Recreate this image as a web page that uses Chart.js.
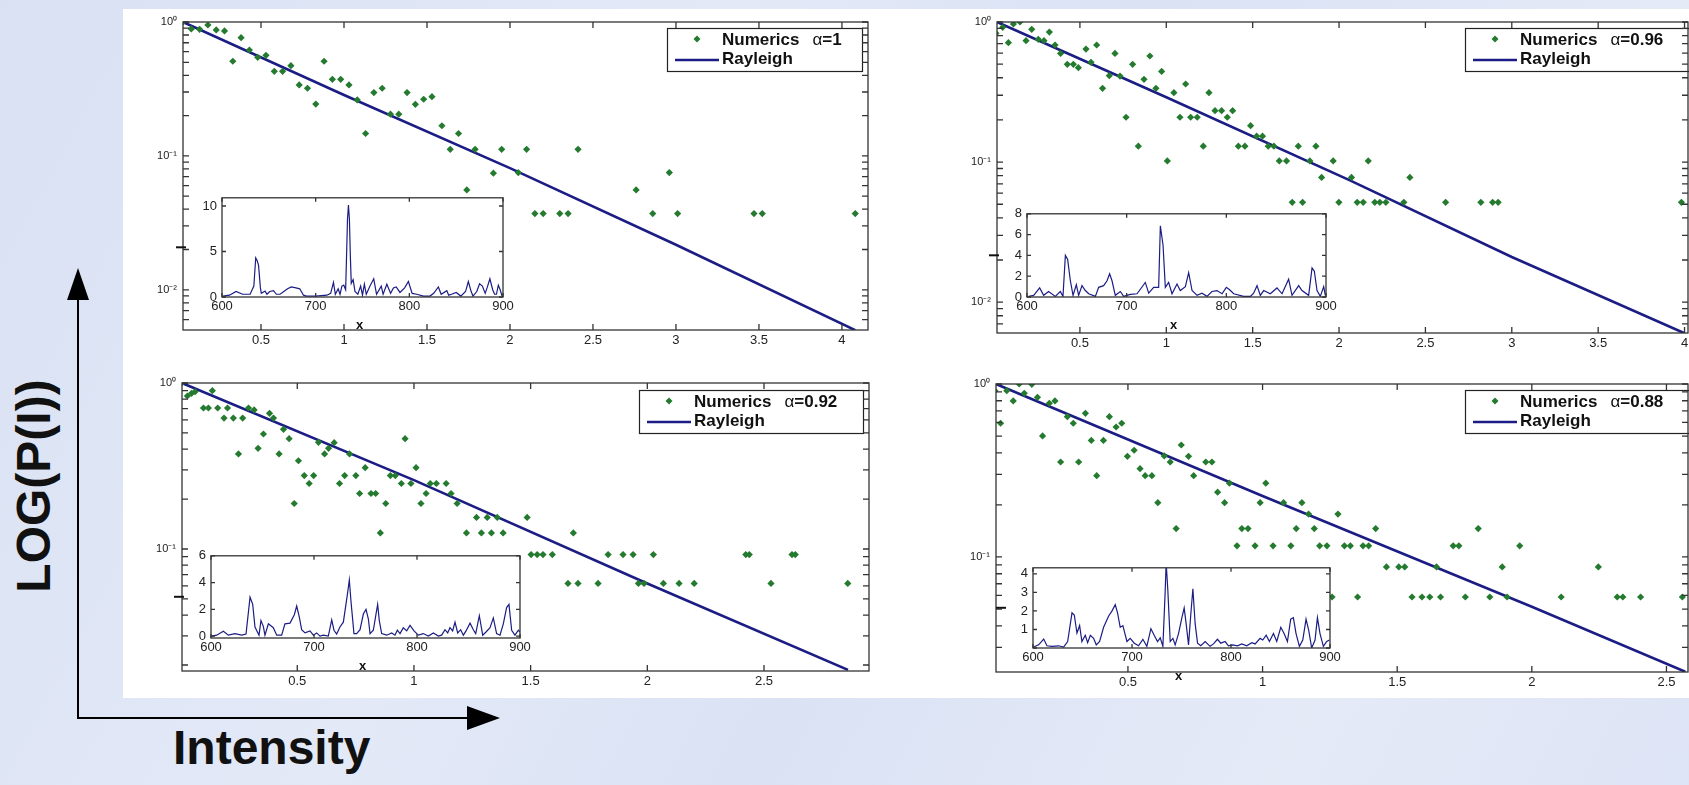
<!DOCTYPE html>
<html>
<head>
<meta charset="utf-8">
<script src="https://cdn.jsdelivr.net/npm/chart.js@4.4.0/dist/chart.umd.min.js"></script>
<style>
  html, body { margin: 0; padding: 0; }
  body {
    width: 1689px; height: 785px; overflow: hidden; position: relative;
    background: linear-gradient(118deg, #d9e1f3 0%, #e3e9f7 35%, #dae2f4 55%, #e5eaf7 80%, #dde4f5 100%);
    font-family: "Liberation Sans", Arial, sans-serif;
  }
  #sheet { position: absolute; left: 123px; top: 9px; width: 1566px; height: 689px; background: #fff; }
  #deco { position: absolute; left: 0; top: 0; }
  canvas { position: absolute; }
</style>
</head>
<body>
<div id="sheet"></div>
<svg id="deco" width="1689" height="785">
  <line x1="78" y1="296" x2="78" y2="719" stroke="#000" stroke-width="2"/>
  <polygon points="78,268 67,300 89,300" fill="#000"/>
  <line x1="77" y1="718" x2="470" y2="718" stroke="#000" stroke-width="2"/>
  <polygon points="500,718 467,706 467,730" fill="#000"/>
  <text transform="translate(50,486) rotate(-90)" text-anchor="middle" font-size="48" font-weight="bold" fill="#111">LOG(P(I))</text>
  <text x="173" y="764" font-size="48" font-weight="bold" fill="#111">Intensity</text>
</svg>
<script>
// ------------------------------------------------------------
// Data
// ------------------------------------------------------------

// panel 1 : alpha = 1
const p1NumX = [0.03,0.08,0.13,0.18,0.23,0.28,0.33,0.38,0.43,0.48,0.53,0.58,0.63,0.68,0.73,0.78,0.83,0.88,0.93,0.98,
  1.03,1.08,1.13,1.18,1.23,1.28,1.33,1.38,1.43,1.48,1.53,1.59,1.64,1.69,1.74,1.79,1.90,1.95,2.05,2.10,
  2.15,2.20,2.30,2.35,2.41,2.76,2.86,2.96,3.01,3.47,3.52,4.08];
const p1NumY = [1.0,0.887,0.881,0.95,0.872,0.857,0.509,0.764,0.618,0.545,0.564,0.428,0.428,0.472,0.339,0.320,0.244,0.509,0.373,0.373,
  0.339,0.262,0.147,0.297,0.320,0.205,0.205,0.297,0.243,0.265,0.277,0.168,0.112,0.147,0.0557,0.112,0.0743,0.112,0.0751,0.112,
  0.0371,0.0371,0.0371,0.0371,0.112,0.0557,0.0371,0.0751,0.0371,0.0371,0.0371,0.0371];
const p1RayX = [0.03, 1.0, 2.0, 3.0, 4.08];
const p1RayY = [1.0, 0.285, 0.081, 0.0217, 0.005];
const p1SpecX = [601,608,615,622,630,634,636,637.5,639,641,642,646,648,651,655,658,662,670,674,679,683,687,690,700,712,716,719,721,724,726,
  728,730,732,733,734,735,736,737,738,740,742,745,748,750,752,754,758,762,765,770,772,776,780,783,786,790,795,799,803,808,
  815,822,826,831,834,840,842,845,850,855,860,863,866,868,872,875,878,881,883,886,889,891,893,895,897,899];
const p1SpecY = [0.1,0.2,0.6,0.3,0.3,1.2,4.3,4.0,3.5,1.0,0.4,0.65,0.3,0.6,0.7,0.3,0.3,0.9,1.1,1.0,0.9,0.2,0.1,0.1,0.2,0.4,1.6,0.3,0.9,0.3,
  1.2,1.3,0.8,4.6,8.6,10.1,8.6,4.6,1.5,1.9,0.6,0.3,1.2,0.2,1.4,0.3,1.2,2.0,0.3,1.2,0.3,1.4,0.4,1.0,1.1,0.5,1.0,1.7,0.4,0.3,
  0.1,0.1,0.4,1.1,0.3,0.7,0.2,0.3,0.5,0.1,0.6,1.7,0.6,0.1,0.6,1.45,1.2,0.4,1.0,2.0,0.8,0.3,0.3,1.3,0.8,0.1];

// panel 2 : alpha = 0.96
const p2NumX = [0.014,0.053,0.086,0.115,0.153,0.188,0.221,0.259,0.292,0.323,0.356,0.388,0.427,0.462,0.491,0.535,0.564,0.597,0.631,0.670,
  0.703,0.732,0.767,0.805,0.838,0.871,0.905,0.940,0.973,1.006,1.044,1.079,1.112,1.141,1.179,1.214,1.247,1.282,1.320,1.353,
  1.384,1.417,1.455,1.488,1.523,1.557,1.590,1.623,1.654,1.696,1.729,1.764,1.789,1.831,1.866,1.899,1.966,1.999,2.072,2.105,
  2.140,2.169,2.207,2.236,2.271,2.375,2.410,2.617,2.821,2.889,2.921,3.982];
const p2NumY = [0.830,0.916,0.712,0.968,1.0,0.736,0.886,0.752,0.736,0.848,0.685,0.597,0.499,0.499,0.472,0.641,0.515,0.685,0.336,0.414,
  0.597,0.411,0.209,0.499,0.130,0.390,0.572,0.336,0.444,0.102,0.313,0.209,0.361,0.209,0.209,0.130,0.313,0.233,0.233,0.209,
  0.233,0.130,0.130,0.182,0.153,0.153,0.130,0.130,0.102,0.102,0.0516,0.130,0.0516,0.102,0.130,0.0777,0.102,0.0516,0.0777,0.0516,
  0.0516,0.102,0.0516,0.0516,0.0516,0.0516,0.0777,0.0516,0.0516,0.0516,0.0516,0.0516];
const p2RayX = [0.02, 1.0, 2.06, 3.0, 4.0];
const p2RayY = [1.0, 0.29, 0.0743, 0.021, 0.006];
const p2SpecX = [601.7,606.7,612.7,616.7,621.7,628.4,633.4,636.1,638.5,640.8,643.5,646.2,649.5,651.8,655.2,658.5,661.9,668.6,671.9,676.9,
  680.3,682.9,685.3,688.6,693.6,697,703.7,710.4,718.7,722.1,727.1,732.1,733.8,736.5,738.8,742.1,745.5,750.5,753.8,758.9,
  762.2,765.6,770.6,775.6,780.6,785.6,790.6,795.7,800,803.3,807.4,817.4,824.1,827.4,830.8,834.1,837.5,844.1,850.8,855.9,
  862.5,865.9,872.6,875.9,882.6,886,888.3,891,894.3,897.7,899.3];
const p2SpecY = [0.06,0.16,0.87,0.16,0.53,0.06,0.53,0.06,4.0,3.6,1.56,0.16,1.18,0.16,1.09,0.62,0.31,0.06,0.93,1.09,
  1.56,2.24,1.56,0.16,0.53,0.06,0.25,0.31,1.4,0.37,0.93,0.93,6.85,4.98,0.93,1.4,0.31,1.25,0.62,1.0,
  2.34,0.62,0.16,0.37,0.06,0.53,0.62,0.31,0.93,0.69,0.31,0.06,0.06,0.37,1.09,0.16,0.62,0.31,0.87,0.31,
  1.71,0.16,1.09,0.62,0.16,2.8,2.49,0.62,0.06,1.0,0.16];

// panel 3 : alpha = 0.92
const p3NumX = [0.005,0.029,0.047,0.062,0.098,0.119,0.136,0.159,0.186,0.201,0.226,0.248,0.266,0.291,0.315,0.332,0.355,0.381,0.398,0.422,
  0.441,0.465,0.487,0.505,0.530,0.551,0.570,0.591,0.617,0.634,0.658,0.681,0.703,0.724,0.751,0.767,0.791,0.816,0.836,0.856,
  0.879,0.899,0.920,0.946,0.962,0.987,1.009,1.030,1.052,1.070,1.096,1.138,1.159,1.185,1.225,1.268,1.289,1.314,1.332,1.357,
  1.382,1.485,1.502,1.528,1.553,1.593,1.660,1.683,1.703,1.789,1.832,1.896,1.939,1.962,1.986,2.026,2.069,2.136,2.201,2.422,
  2.437,2.530,2.620,2.634,2.859];
const p3NumY = [1.0,0.835,0.866,0.887,0.707,0.707,0.899,0.707,0.615,0.707,0.615,0.374,0.615,0.707,0.688,0.404,0.493,0.657,0.615,0.374,
  0.526,0.462,0.188,0.340,0.277,0.248,0.277,0.439,0.374,0.404,0.437,0.248,0.277,0.374,0.277,0.216,0.309,0.216,0.216,0.125,
  0.188,0.277,0.277,0.248,0.462,0.248,0.309,0.188,0.216,0.248,0.248,0.248,0.216,0.188,0.125,0.155,0.125,0.155,0.125,0.155,
  0.125,0.155,0.0925,0.0925,0.0925,0.0925,0.0620,0.125,0.0620,0.0620,0.0925,0.0925,0.0925,0.0620,0.0620,0.0925,0.0620,0.0620,0.0620,0.0925,
  0.0925,0.0620,0.0925,0.0925,0.0620];
const p3RayX = [0.006, 1.0, 2.0, 2.86];
const p3RayY = [1.0, 0.26, 0.062, 0.0187];
const p3SpecX = [600.6,605.5,612,616.8,623.3,629.8,634,637.9,640.5,642.7,646.6,648.5,650.8,652.4,655.7,660.5,663.8,668.6,671.8,676.7,
  680.9,683.2,685.8,688,691.3,696.1,699.4,702.6,705.8,709.1,713.9,717.2,719.4,722,725.2,728.5,732.4,734.3,735.9,738.8,
  741.4,744.7,747.9,750.5,752.8,754.4,757.6,760.2,761.8,763.4,765.7,770.6,775.4,778.6,780.9,783.5,786.7,790,793.2,797.1,
  801.3,806.1,811,815.9,820.7,823.9,827.2,829.8,832,834.6,836.9,839.5,842.4,845,847.6,851.5,854.7,857,860.5,863.8,
  867,870.9,874.1,877.3,880.6,883.8,887,889.3,891.9,895.1,898.4,900];
const p3SpecY = [0,0.07,0.36,0.07,0.19,0.07,0.15,2.91,2.37,0.68,0.07,1.16,0.73,0.07,0.92,0.63,0.07,0.07,0.92,0.97,
  1.6,2.25,1.4,0.48,0.24,0.39,0.07,0.24,0,0.07,0,1.21,0.44,0.15,0.68,1.04,3.1,4.19,2.6,0.19,
  0.19,0.48,1.65,2.0,1.28,0.19,0.44,1.65,2.37,1.16,0.19,0.07,0.24,0.07,0.44,0.19,0.63,0.39,0.8,0.39,
  0.07,0.19,0,0.24,0,0.07,0.48,0.24,0.63,0.39,1.04,0.24,0.48,0.07,0.39,0.97,0.48,0.19,1.53,0.07,
  0.31,0.63,1.36,0.19,0.07,0.92,2.13,2.37,0.44,0.07,0.44,0.31];

// panel 4 : alpha = 0.88
const p4NumX = [0.006,0.027,0.050,0.074,0.096,0.115,0.143,0.164,0.183,0.208,0.229,0.250,0.275,0.297,0.317,0.342,0.364,0.384,0.409,0.431,
  0.456,0.477,0.498,0.523,0.545,0.564,0.589,0.611,0.635,0.657,0.679,0.698,0.725,0.744,0.789,0.812,0.833,0.859,0.877,0.905,
  0.923,0.946,0.972,0.991,1.012,1.039,1.078,1.105,1.125,1.146,1.171,1.192,1.212,1.239,1.258,1.280,1.304,1.326,1.353,1.373,
  1.394,1.420,1.460,1.506,1.528,1.555,1.592,1.621,1.646,1.661,1.708,1.729,1.753,1.801,1.844,1.890,1.908,1.955,2.109,2.247,
  2.317,2.338,2.404,2.559];
const p4NumY = [0.915,0.593,0.915,0.798,1.0,0.883,0.996,0.837,0.501,0.773,0.798,0.354,0.647,0.593,0.354,0.677,0.472,0.295,0.472,0.647,
  0.564,0.593,0.382,0.414,0.324,0.295,0.295,0.206,0.384,0.354,0.146,0.444,0.382,0.295,0.354,0.354,0.237,0.206,0.267,0.116,
  0.146,0.146,0.116,0.206,0.267,0.116,0.206,0.116,0.146,0.206,0.177,0.146,0.116,0.116,0.0587,0.177,0.116,0.116,0.0587,0.116,
  0.116,0.146,0.0876,0.0876,0.0876,0.0587,0.0587,0.0587,0.0876,0.0587,0.116,0.116,0.0587,0.146,0.0587,0.0876,0.0587,0.116,0.0587,0.0876,
  0.0587,0.0587,0.0587,0.0587];
const p4RayX = [0.01, 1.0, 2.0, 2.57];
const p4RayY = [1.0, 0.225, 0.0516, 0.0217];
const p4SpecX = [600.7,605.7,610.8,614.1,619.2,625.9,630.9,635,639.4,641.7,644.4,647.1,649.4,652.8,655.2,657.9,661.2,663.9,667.3,671.3,
  676.4,679.7,683.1,685.4,688.1,690.8,694.9,698.2,702.3,706.6,711,715,719.1,722.4,725.8,728.5,731.2,733.5,734.5,736.2,
  738.6,741.3,743.6,747,750.4,752.7,754.7,757.1,759.4,761.5,763.8,766.2,769.5,773.9,778.9,782.3,786.3,789.7,794.1,797.4,
  801.8,806.5,810.9,815.9,821,824.4,829.4,832.1,835.5,838.8,842.9,846.2,850.3,853.6,857,860.3,863,865.7,869.1,872.5,
  875.8,878.5,881.5,884.9,887.3,889.9,893.3,896.7,899.4];
const p4SpecY = [0.05,0.17,0.48,0.12,0.09,0.12,0.05,0.35,1.9,1.78,0.81,1.21,0.35,0.69,0.29,0.69,0.52,0.17,0.35,1.12,
  1.73,1.99,2.34,1.9,1.12,1.21,0.35,0.52,0.26,0.12,0.47,0.09,1.04,0.69,0.35,0.55,0.09,3.03,4.6,3.11,
  0.35,0.52,0.17,0.78,1.64,2.16,1.3,0.17,1.82,3.2,1.3,0.26,0.12,0.35,0.09,0.22,0.47,0.26,0.35,0.12,
  0.17,0.12,0.22,0.12,0.29,0.22,0.52,0.43,0.69,0.35,0.78,0.35,1.12,0.78,0.35,1.56,1.64,0.78,0.09,0.43,
  1.56,0.95,0.0,0.43,1.64,0.78,0.09,0.35,0.43];

// ------------------------------------------------------------
// Layout of the four panels (page pixels)
// ------------------------------------------------------------
const panels = [
  { alpha: '1', num: [p1NumX, p1NumY], ray: [p1RayX, p1RayY], spec: [p1SpecX, p1SpecY],
    plot: { l: 183, t: 22, r: 868, b: 330 }, xr: [0.03, 4.157], yExp: -2.3,
    inset: { l: 222, t: 195, r: 503, b: 297 }, iy: [0, 10.9], iyStep: 5, iTitleDx: 40,
    legend: { l: 667, t: 28, w: 195 } },
  { alpha: '0.96', num: [p2NumX, p2NumY], ray: [p2RayX, p2RayY], spec: [p2SpecX, p2SpecY],
    plot: { l: 997, t: 22, r: 1688, b: 333 }, xr: [0.02, 4.02], yExp: -2.22,
    inset: { l: 1027, t: 211, r: 1326, b: 297 }, iy: [0, 8], iyStep: 2, iTitleDx: 32,
    legend: { l: 1465, t: 28, w: 226 } },
  { alpha: '0.92', num: [p3NumX, p3NumY], ray: [p3RayX, p3RayY], spec: [p3SpecX, p3SpecY],
    plot: { l: 182, t: 383, r: 869, b: 671 }, xr: [0.006, 2.95], yExp: -1.735,
    inset: { l: 211, t: 553, r: 520, b: 638 }, iy: [-0.14, 6], iyStep: 2, iTitleDx: 31,
    legend: { l: 639, t: 390, w: 224 } },
  { alpha: '0.88', num: [p4NumX, p4NumY], ray: [p4RayX, p4RayY], spec: [p4SpecX, p4SpecY],
    plot: { l: 996, t: 384, r: 1688, b: 672 }, xr: [0.01, 2.58], yExp: -1.665,
    inset: { l: 1033, t: 565, r: 1330, b: 648 }, iy: [0, 4.33], iyStep: 1, iTitleDx: 31, hideZero: true,
    legend: { l: 1465, t: 390, w: 226 } }
];

const FONT  = '"Liberation Sans", Arial, Helvetica, sans-serif';
const GREEN = '#247a2e';
const NAVY  = '#1c1d84';
const INK   = '#222';
Chart.defaults.font.family = FONT;

const SUP = { '0': '⁰', '1': '¹', '2': '²', '3': '³', '-': '⁻' };
function powLabel(v) {
  const e = Math.round(Math.log10(v));
  return '10' + String(e).split('').map(ch => SUP[ch]).join('');
}

function pts(xs, ys) { return xs.map((x, i) => ({ x: x, y: ys[i] })); }

function stepTicks(min, max, step) {
  const out = [];
  for (let v = Math.ceil(min / step - 1e-9) * step; v <= max + 1e-9; v += step) out.push(+v.toFixed(6));
  return out;
}

function logMinorTicks(min, max) {
  const out = [];
  for (let e = Math.floor(Math.log10(min)); e <= 0; e++) {
    for (let m = 1; m <= 9; m++) {
      const v = m * Math.pow(10, e);
      if (v > min * 1.0001 && v <= max) out.push(v);
    }
  }
  return out;
}

function addCanvas(left, top, w, h) {
  const c = document.createElement('canvas');
  c.width = w; c.height = h;
  c.style.left = left + 'px'; c.style.top = top + 'px';
  c.style.width = w + 'px'; c.style.height = h + 'px';
  document.body.appendChild(c);
  return c;
}

// box, inward ticks on all four sides, legend and loose labels
const framePlugin = {
  id: 'frame',
  beforeDraw(chart, args, o) {
    if (!o.fill) return;
    const a = chart.chartArea, ctx = chart.ctx;
    ctx.save();
    ctx.fillStyle = o.fill;
    ctx.fillRect(a.left, a.top, a.width, a.height);
    ctx.restore();
  },
  afterDraw(chart, args, o) {
    const { ctx, chartArea: a, scales } = chart;
    ctx.save();

    if (o.legend) drawLegend(ctx, a, o.legend);

    ctx.strokeStyle = '#333';
    ctx.lineWidth = 1.3;
    ctx.strokeRect(a.left, a.top, a.width, a.height);
    ctx.beginPath();
    o.xTicks.forEach(v => {
      const p = scales.x.getPixelForValue(v);
      ctx.moveTo(p, a.bottom); ctx.lineTo(p, a.bottom - o.len);
      ctx.moveTo(p, a.top);    ctx.lineTo(p, a.top + o.len);
    });
    o.yTicks.forEach(v => {
      const p = scales.y.getPixelForValue(v);
      ctx.moveTo(a.left, p);  ctx.lineTo(a.left + o.len, p);
      ctx.moveTo(a.right, p); ctx.lineTo(a.right - o.len, p);
    });
    ctx.stroke();

    if (o.titles) {
      ctx.fillStyle = '#111';
      ctx.font = 'bold 13px ' + FONT;
      ctx.textAlign = 'center';
      ctx.textBaseline = 'middle';
      ctx.fillText('x', (a.left + a.right) / 2 - 3, a.bottom + 28);
      ctx.translate(a.left - o.titles.dx, (a.top + a.bottom) / 2);
      ctx.rotate(-Math.PI / 2);
      ctx.font = 'bold 14px ' + FONT;
      ctx.fillText('I', 0, 0);
    }
    ctx.restore();
  }
};

function drawLegend(ctx, a, L) {
  const x0 = a.left + L.dx, y0 = a.top + L.dy, h = 43;
  ctx.fillStyle = '#fff';
  ctx.fillRect(x0, y0, L.w, h);
  ctx.strokeStyle = '#222';
  ctx.lineWidth = 1.2;
  ctx.strokeRect(x0 + 0.5, y0 + 0.5, L.w, h);

  // marker
  ctx.fillStyle = GREEN;
  ctx.beginPath();
  ctx.moveTo(x0 + 30, y0 + 7.5); ctx.lineTo(x0 + 33.5, y0 + 11);
  ctx.lineTo(x0 + 30, y0 + 14.5); ctx.lineTo(x0 + 26.5, y0 + 11);
  ctx.closePath(); ctx.fill();

  // line sample
  ctx.strokeStyle = NAVY;
  ctx.lineWidth = 2.4;
  ctx.beginPath();
  ctx.moveTo(x0 + 8, y0 + 32); ctx.lineTo(x0 + 52, y0 + 32);
  ctx.stroke();

  ctx.fillStyle = '#111';
  ctx.textAlign = 'left';
  ctx.textBaseline = 'alphabetic';
  let tx = x0 + 55;
  ctx.font = 'bold 17px ' + FONT;
  ctx.fillText('Numerics', tx, y0 + 17);
  tx += ctx.measureText('Numerics').width + 13;
  ctx.font = '17px ' + FONT;
  ctx.fillText('α', tx, y0 + 17);
  tx += ctx.measureText('α').width;
  ctx.font = 'bold 17px ' + FONT;
  ctx.fillText('=' + L.alpha, tx, y0 + 17);
  ctx.fillText('Rayleigh', x0 + 55, y0 + 36);
}

function drawMain(p) {
  const P = p.plot, padL = 70, padT = 20, padR = 45, padB = 35;
  const c = addCanvas(P.l - padL, P.t - padT, P.r - P.l + padL + padR, P.b - P.t + padT + padB);
  const yMin = Math.pow(10, p.yExp);
  const xTicks = stepTicks(p.xr[0], p.xr[1], 0.5);
  new Chart(c, {
    type: 'scatter',
    data: {
      datasets: [
        { label: 'Numerics', data: pts(p.num[0], p.num[1]), pointStyle: 'rectRot',
          pointRadius: 3.6, backgroundColor: GREEN, borderColor: GREEN, borderWidth: 0 },
        { label: 'Rayleigh', data: pts(p.ray[0], p.ray[1]), showLine: true, tension: 0,
          pointRadius: 0, borderColor: NAVY, borderWidth: 2.6, fill: false }
      ]
    },
    options: {
      responsive: false, animation: false, events: [],
      layout: { padding: { left: 0, top: padT, right: padR, bottom: 0 } },
      plugins: {
        legend: { display: false }, tooltip: { enabled: false },
        frame: {
          len: 6,
          xTicks: xTicks,
          yTicks: logMinorTicks(yMin, 1),
          legend: { dx: p.legend.l - P.l, dy: p.legend.t - P.t, w: p.legend.w, alpha: p.alpha }
        }
      },
      scales: {
        x: {
          type: 'linear', min: p.xr[0], max: p.xr[1],
          afterFit: s => { s.height = padB; },
          afterBuildTicks: s => { s.ticks = xTicks.map(v => ({ value: v })); },
          grid: { display: false, drawTicks: false }, border: { display: false },
          ticks: { padding: 3, maxRotation: 0, autoSkip: false, color: INK,
                   font: { size: 13 }, callback: v => String(+v.toFixed(2)) }
        },
        y: {
          type: 'logarithmic', min: yMin, max: 1,
          afterFit: s => { s.width = padL; },
          afterBuildTicks: s => { s.ticks = [1, 0.1, 0.01].filter(v => v >= yMin).map(v => ({ value: v })); },
          grid: { display: false, drawTicks: false }, border: { display: false },
          ticks: { padding: 6, color: INK, font: { size: 11 }, autoSkip: false, callback: v => powLabel(v) }
        }
      }
    },
    plugins: [framePlugin]
  });
}

function drawInset(p) {
  const I = p.inset, padL = 60, padT = 10, padR = 25, padB = 45;
  const c = addCanvas(I.l - padL, I.t - padT, I.r - I.l + padL + padR, I.b - I.t + padT + padB);
  new Chart(c, {
    type: 'scatter',
    data: {
      datasets: [
        { data: pts(p.spec[0], p.spec[1]), showLine: true, tension: 0, pointRadius: 0,
          borderColor: NAVY, borderWidth: 1.2, fill: false }
      ]
    },
    options: {
      responsive: false, animation: false, events: [],
      layout: { padding: { left: 0, top: padT, right: padR, bottom: 0 } },
      plugins: {
        legend: { display: false }, tooltip: { enabled: false },
        frame: {
          fill: '#fff', len: 4,
          xTicks: stepTicks(600, 900, 100),
          yTicks: stepTicks(p.iy[0], p.iy[1], p.iyStep),
          titles: { dx: p.iTitleDx }
        }
      },
      scales: {
        x: {
          type: 'linear', min: 600, max: 900,
          afterFit: s => { s.height = padB; },
          grid: { display: false, drawTicks: false }, border: { display: false },
          ticks: { stepSize: 100, padding: 2, maxRotation: 0, color: INK, font: { size: 13 } }
        },
        y: {
          type: 'linear', min: p.iy[0], max: p.iy[1],
          afterFit: s => { s.width = padL; },
          grid: { display: false, drawTicks: false }, border: { display: false },
          ticks: { stepSize: p.iyStep, includeBounds: false, padding: 5, color: INK, font: { size: 13 },
                   callback: v => (p.hideZero && v === 0) ? '' : String(v) }
        }
      }
    },
    plugins: [framePlugin]
  });
}

panels.forEach(drawMain);
panels.forEach(drawInset);
</script>
</body>
</html>
